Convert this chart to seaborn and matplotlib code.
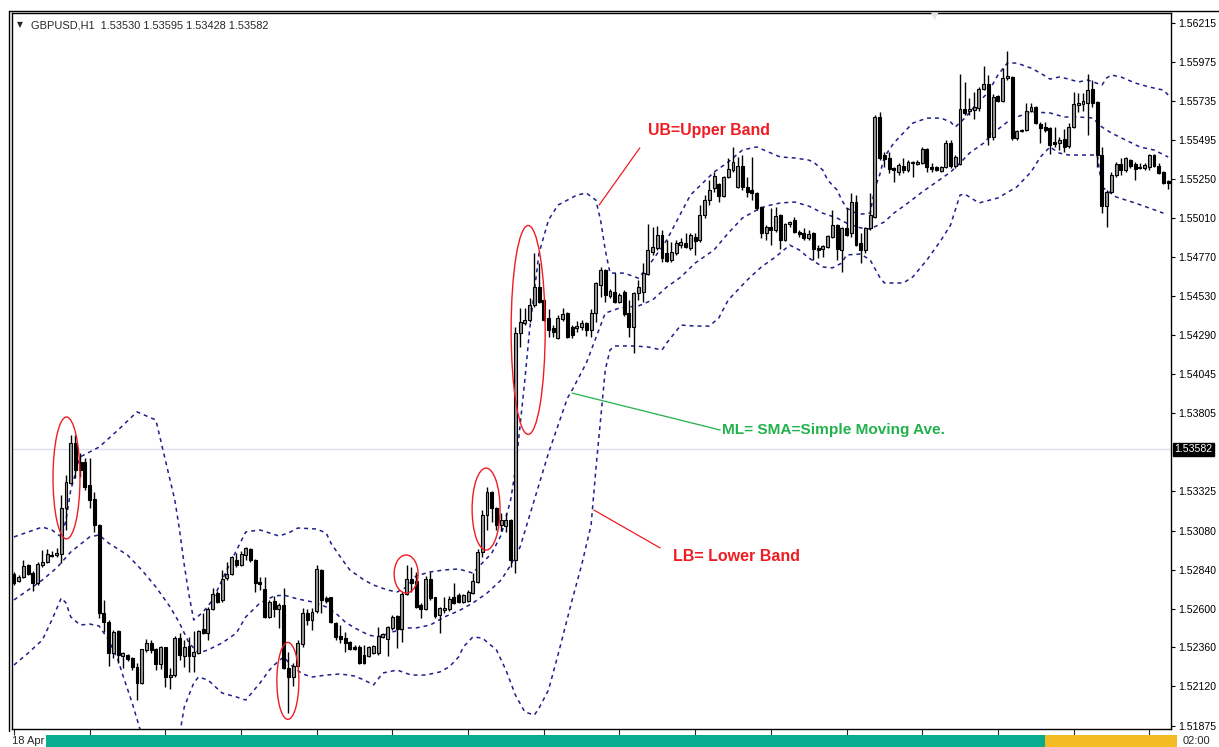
import numpy as np
import pandas as pd
import matplotlib
matplotlib.use("Agg")
import matplotlib.pyplot as plt
from matplotlib.patches import Ellipse, Rectangle
from matplotlib.lines import Line2D
import seaborn as sns

# ---------------- data (GBPUSD H1) ----------------
opens = [
    1.52813, 1.52770, 1.52795, 1.52868, 1.52819, 1.52757, 1.52868, 1.52887, 1.52930, 1.52930,
    1.52936, 1.53221, 1.53374, 1.53621, 1.53505, 1.53505, 1.53362, 1.53276, 1.53115, 1.52572,
    1.52517, 1.52325, 1.52461, 1.52307, 1.52313, 1.52295, 1.52239, 1.52140, 1.52344, 1.52387,
    1.52350, 1.52257, 1.52363, 1.52177, 1.52189, 1.52418, 1.52307, 1.52369, 1.52307, 1.52325,
    1.52473, 1.52448, 1.52597, 1.52695, 1.52653, 1.52789, 1.52813, 1.52899, 1.52868, 1.52930,
    1.52967, 1.52899, 1.52764, 1.52720, 1.52548, 1.52647, 1.52597, 1.52622, 1.52233, 1.52177,
    1.52245, 1.52381, 1.52572, 1.52529, 1.52585, 1.52838, 1.52665, 1.52671, 1.52510, 1.52430,
    1.52418, 1.52394, 1.52363, 1.52363, 1.52313, 1.52307, 1.52325, 1.52325, 1.52424, 1.52411,
    1.52480, 1.52554, 1.52473, 1.52689, 1.52782, 1.52770, 1.52622, 1.52597, 1.52782, 1.52671,
    1.52560, 1.52591, 1.52597, 1.52671, 1.52683, 1.52641, 1.52647, 1.52695, 1.52764, 1.52949,
    1.53177, 1.53320, 1.53221, 1.53115, 1.53109, 1.53146, 1.52899, 1.54301, 1.54362, 1.54381,
    1.54474, 1.54585, 1.54505, 1.54394, 1.54332, 1.54271, 1.54387, 1.54424, 1.54338, 1.54332,
    1.54338, 1.54362, 1.54320, 1.54424, 1.54597, 1.54690, 1.54530, 1.54555, 1.54493, 1.54555,
    1.54424, 1.54338, 1.54548, 1.54555, 1.54665, 1.54802, 1.54826, 1.54906, 1.54795, 1.54752,
    1.54795, 1.54844, 1.54856, 1.54826, 1.54894, 1.54875, 1.55029, 1.55122, 1.55197, 1.55221,
    1.55147, 1.55264, 1.55307, 1.55203, 1.55332, 1.55203, 1.55184, 1.55165, 1.55079, 1.54918,
    1.54956, 1.54937, 1.55029, 1.54875, 1.54974, 1.54999, 1.54925, 1.54918, 1.54888, 1.54918,
    1.54826, 1.54819, 1.54832, 1.54894, 1.54968, 1.54814, 1.54950, 1.54918, 1.55110, 1.54856,
    1.54814, 1.54950, 1.55017, 1.55635, 1.55400, 1.55382, 1.55320, 1.55295, 1.55332, 1.55307,
    1.55350, 1.55344, 1.55350, 1.55437, 1.55326, 1.55326, 1.55301, 1.55326, 1.55474, 1.55332,
    1.55344, 1.55684, 1.55672, 1.55678, 1.55691, 1.55807, 1.55838, 1.55511, 1.55764, 1.55734,
    1.55876, 1.55882, 1.55505, 1.55548, 1.55554, 1.55672, 1.55697, 1.55591, 1.55573, 1.55567,
    1.55481, 1.55474, 1.55498, 1.55456, 1.55573, 1.55709, 1.55715, 1.55721, 1.55807, 1.55728,
    1.55400, 1.55085, 1.55172, 1.55276, 1.55344, 1.55307, 1.55369, 1.55344, 1.55326, 1.55320,
    1.55326, 1.55400, 1.55332, 1.55295, 1.55240,
]
highs = [
    1.52826, 1.52807, 1.52899, 1.52874, 1.52832, 1.52887, 1.52961, 1.52967, 1.52955, 1.52974,
    1.53301, 1.53424, 1.53671, 1.53671, 1.53560, 1.53530, 1.53530, 1.53320, 1.53121, 1.52653,
    1.52529, 1.52467, 1.52467, 1.52332, 1.52319, 1.52301, 1.52263, 1.52350, 1.52411, 1.52406,
    1.52357, 1.52369, 1.52363, 1.52233, 1.52430, 1.52448, 1.52406, 1.52424, 1.52461, 1.52467,
    1.52572, 1.52610, 1.52727, 1.52708, 1.52838, 1.52887, 1.52924, 1.52942, 1.52955, 1.52980,
    1.52974, 1.52905, 1.52795, 1.52795, 1.52653, 1.52677, 1.52634, 1.52727, 1.52332, 1.52263,
    1.52406, 1.52604, 1.52597, 1.52604, 1.52868, 1.52843, 1.52677, 1.52671, 1.52517, 1.52498,
    1.52455, 1.52400, 1.52375, 1.52375, 1.52375, 1.52369, 1.52375, 1.52486, 1.52448, 1.52492,
    1.52560, 1.52560, 1.52702, 1.52868, 1.52856, 1.52826, 1.52634, 1.52801, 1.52826, 1.52671,
    1.52610, 1.52671, 1.52677, 1.52757, 1.52695, 1.52689, 1.52714, 1.52819, 1.52967, 1.53208,
    1.53350, 1.53326, 1.53227, 1.53189, 1.53189, 1.53152, 1.54338, 1.54456, 1.54456, 1.54518,
    1.54795, 1.54733, 1.54511, 1.54449, 1.54350, 1.54412, 1.54456, 1.54431, 1.54350, 1.54375,
    1.54381, 1.54369, 1.54449, 1.54616, 1.54709, 1.54696, 1.54573, 1.54671, 1.54548, 1.54567,
    1.54505, 1.54555, 1.54628, 1.54733, 1.54974, 1.54956, 1.54962, 1.54937, 1.54875, 1.54863,
    1.54875, 1.54888, 1.54918, 1.54918, 1.54918, 1.55091, 1.55153, 1.55246, 1.55295, 1.55227,
    1.55270, 1.55382, 1.55450, 1.55388, 1.55400, 1.55264, 1.55388, 1.55172, 1.55085, 1.54968,
    1.55073, 1.55079, 1.55035, 1.54980, 1.54993, 1.55017, 1.54937, 1.54950, 1.54937, 1.54925,
    1.54844, 1.54844, 1.54906, 1.55060, 1.54974, 1.54956, 1.55073, 1.55165, 1.55153, 1.54918,
    1.54956, 1.55165, 1.55647, 1.55666, 1.55419, 1.55419, 1.55326, 1.55350, 1.55382, 1.55369,
    1.55363, 1.55369, 1.55450, 1.55444, 1.55350, 1.55332, 1.55332, 1.55493, 1.55493, 1.55400,
    1.55900, 1.55851, 1.55752, 1.55789, 1.55820, 1.55950, 1.55894, 1.55776, 1.55770, 1.55938,
    1.56042, 1.55888, 1.55554, 1.55560, 1.55721, 1.55721, 1.55703, 1.55604, 1.55604, 1.55573,
    1.55573, 1.55511, 1.55560, 1.55597, 1.55789, 1.55782, 1.55782, 1.55900, 1.55863, 1.55734,
    1.55450, 1.55184, 1.55295, 1.55357, 1.55382, 1.55388, 1.55375, 1.55357, 1.55350, 1.55350,
    1.55406, 1.55406, 1.55350, 1.55301, 1.55246,
]
lows = [
    1.52745, 1.52764, 1.52789, 1.52807, 1.52708, 1.52745, 1.52856, 1.52880, 1.52918, 1.52918,
    1.52880, 1.53085, 1.53368, 1.53406, 1.53412, 1.53332, 1.53221, 1.53073, 1.52542, 1.52455,
    1.52245, 1.52295, 1.52263, 1.52233, 1.52276, 1.52220, 1.52035, 1.52134, 1.52332, 1.52325,
    1.52220, 1.52226, 1.52116, 1.52103, 1.52177, 1.52282, 1.52239, 1.52208, 1.52208, 1.52319,
    1.52442, 1.52406, 1.52591, 1.52634, 1.52641, 1.52776, 1.52807, 1.52856, 1.52862, 1.52899,
    1.52887, 1.52702, 1.52714, 1.52542, 1.52542, 1.52548, 1.52480, 1.52226, 1.51954, 1.52122,
    1.52239, 1.52363, 1.52498, 1.52467, 1.52572, 1.52572, 1.52634, 1.52510, 1.52406, 1.52387,
    1.52332, 1.52344, 1.52344, 1.52257, 1.52257, 1.52301, 1.52319, 1.52313, 1.52418, 1.52307,
    1.52467, 1.52357, 1.52394, 1.52683, 1.52702, 1.52604, 1.52542, 1.52591, 1.52653, 1.52542,
    1.52448, 1.52572, 1.52585, 1.52628, 1.52634, 1.52634, 1.52641, 1.52689, 1.52757, 1.52918,
    1.53085, 1.53134, 1.53085, 1.53079, 1.53073, 1.52856, 1.52819, 1.54215, 1.54350, 1.54369,
    1.54462, 1.54486, 1.54375, 1.54277, 1.54277, 1.54264, 1.54375, 1.54271, 1.54271, 1.54308,
    1.54320, 1.54283, 1.54277, 1.54369, 1.54524, 1.54493, 1.54518, 1.54486, 1.54486, 1.54406,
    1.54277, 1.54177, 1.54505, 1.54493, 1.54659, 1.54783, 1.54814, 1.54740, 1.54740, 1.54740,
    1.54783, 1.54826, 1.54826, 1.54814, 1.54783, 1.54863, 1.55011, 1.55091, 1.55172, 1.55110,
    1.55141, 1.55258, 1.55295, 1.55197, 1.55184, 1.55141, 1.55122, 1.55060, 1.54888, 1.54875,
    1.54844, 1.54925, 1.54819, 1.54869, 1.54956, 1.54918, 1.54894, 1.54875, 1.54875, 1.54752,
    1.54765, 1.54771, 1.54826, 1.54888, 1.54752, 1.54678, 1.54900, 1.54894, 1.54838, 1.54733,
    1.54795, 1.54937, 1.55011, 1.55369, 1.55326, 1.55288, 1.55234, 1.55276, 1.55288, 1.55295,
    1.55264, 1.55338, 1.55344, 1.55295, 1.55295, 1.55301, 1.55295, 1.55320, 1.55320, 1.55320,
    1.55338, 1.55647, 1.55647, 1.55622, 1.55672, 1.55801, 1.55462, 1.55493, 1.55728, 1.55728,
    1.55863, 1.55493, 1.55493, 1.55542, 1.55548, 1.55666, 1.55591, 1.55474, 1.55542, 1.55406,
    1.55450, 1.55431, 1.55419, 1.55444, 1.55567, 1.55666, 1.55672, 1.55523, 1.55697, 1.55326,
    1.55041, 1.54956, 1.55165, 1.55264, 1.55276, 1.55295, 1.55320, 1.55246, 1.55313, 1.55307,
    1.55307, 1.55326, 1.55282, 1.55221, 1.55190,
]
closes = [
    1.52757, 1.52795, 1.52862, 1.52813, 1.52757, 1.52874, 1.52887, 1.52936, 1.52927, 1.52942,
    1.53221, 1.53381, 1.53621, 1.53455, 1.53455, 1.53350, 1.53270, 1.53115, 1.52572, 1.52517,
    1.52325, 1.52455, 1.52313, 1.52325, 1.52288, 1.52239, 1.52140, 1.52350, 1.52387, 1.52344,
    1.52257, 1.52363, 1.52177, 1.52189, 1.52418, 1.52313, 1.52363, 1.52307, 1.52332, 1.52461,
    1.52448, 1.52597, 1.52689, 1.52641, 1.52782, 1.52813, 1.52918, 1.52868, 1.52936, 1.52974,
    1.52899, 1.52757, 1.52751, 1.52548, 1.52641, 1.52597, 1.52622, 1.52233, 1.52177, 1.52245,
    1.52387, 1.52572, 1.52529, 1.52579, 1.52843, 1.52653, 1.52647, 1.52517, 1.52424, 1.52411,
    1.52387, 1.52350, 1.52350, 1.52263, 1.52263, 1.52363, 1.52369, 1.52430, 1.52442, 1.52486,
    1.52548, 1.52473, 1.52689, 1.52782, 1.52757, 1.52610, 1.52597, 1.52782, 1.52665, 1.52554,
    1.52604, 1.52604, 1.52659, 1.52634, 1.52641, 1.52683, 1.52702, 1.52770, 1.52949, 1.53177,
    1.53320, 1.53221, 1.53115, 1.53146, 1.53146, 1.52899, 1.54301, 1.54369, 1.54381, 1.54474,
    1.54585, 1.54493, 1.54381, 1.54320, 1.54308, 1.54394, 1.54418, 1.54277, 1.54289, 1.54344,
    1.54362, 1.54320, 1.54424, 1.54609, 1.54690, 1.54536, 1.54561, 1.54493, 1.54536, 1.54418,
    1.54338, 1.54548, 1.54585, 1.54671, 1.54814, 1.54832, 1.54906, 1.54765, 1.54746, 1.54802,
    1.54856, 1.54863, 1.54832, 1.54906, 1.54869, 1.55029, 1.55122, 1.55184, 1.55270, 1.55147,
    1.55264, 1.55313, 1.55357, 1.55332, 1.55203, 1.55172, 1.55165, 1.55073, 1.54918, 1.54956,
    1.54937, 1.55023, 1.54875, 1.54974, 1.54987, 1.54925, 1.54912, 1.54888, 1.54912, 1.54819,
    1.54814, 1.54838, 1.54900, 1.54968, 1.54819, 1.54950, 1.54906, 1.55110, 1.54844, 1.54814,
    1.54950, 1.55029, 1.55635, 1.55382, 1.55375, 1.55313, 1.55307, 1.55338, 1.55307, 1.55357,
    1.55357, 1.55357, 1.55437, 1.55326, 1.55313, 1.55307, 1.55326, 1.55474, 1.55332, 1.55388,
    1.55684, 1.55659, 1.55684, 1.55697, 1.55807, 1.55838, 1.55511, 1.55758, 1.55734, 1.55876,
    1.55888, 1.55505, 1.55548, 1.55554, 1.55672, 1.55697, 1.55597, 1.55567, 1.55554, 1.55462,
    1.55468, 1.55493, 1.55450, 1.55573, 1.55715, 1.55721, 1.55734, 1.55801, 1.55721, 1.55400,
    1.55085, 1.55172, 1.55276, 1.55344, 1.55307, 1.55382, 1.55332, 1.55313, 1.55320, 1.55338,
    1.55400, 1.55332, 1.55288, 1.55227, 1.55227,
]

# Bollinger bands, sampled at bar positions
upper_idx = [0, 6, 8, 10, 11, 12, 14, 18, 22, 26, 30, 31, 33, 34, 35, 36, 37, 38, 40, 42,
             44, 46, 49, 52, 56, 58, 60, 64, 66, 67, 69, 71, 74, 76, 79, 81, 83, 85, 88, 91,
             94, 97, 98, 101, 103, 105, 106, 108, 109, 111, 113, 115, 119, 121, 123, 124, 125, 126, 129, 132,
             134, 138, 143, 148, 151, 154, 157, 159, 162, 165, 168, 169, 171, 172, 174, 175, 176, 178, 179, 181,
             182, 183, 184, 186, 188, 190, 193, 196, 198, 199, 201, 203, 206, 208, 210, 212, 215, 217, 219, 221,
             223, 225, 227, 230, 231, 232, 234, 237, 240, 243, 244]
upper_val = [1.53042, 1.53103, 1.53085, 1.53042, 1.53146, 1.53332, 1.53536, 1.53597, 1.53702, 1.53814,
             1.53764, 1.53640, 1.53393, 1.53270, 1.53085, 1.52868, 1.52683, 1.52529, 1.52579, 1.52653,
             1.52776, 1.52899, 1.53073, 1.53085, 1.53048, 1.53066, 1.53097, 1.53091, 1.53066, 1.53004,
             1.52918, 1.52838, 1.52776, 1.52745, 1.52714, 1.52702, 1.52733, 1.52801, 1.52826, 1.52838,
             1.52844, 1.52819, 1.52850, 1.52942, 1.53054, 1.53270, 1.53455, 1.54011, 1.54320, 1.54795,
             1.54999, 1.55091, 1.55153, 1.55165, 1.55122, 1.54999, 1.54814, 1.54671, 1.54671, 1.54640,
             1.54709, 1.54875, 1.55153, 1.55295, 1.55357, 1.55431, 1.55450, 1.55425, 1.55388, 1.55382,
             1.55369, 1.55357, 1.55307, 1.55246, 1.55184, 1.55122, 1.55073, 1.55041, 1.55035, 1.55041,
             1.55197, 1.55276, 1.55388, 1.55474, 1.55536, 1.55597, 1.55628, 1.55628, 1.55604, 1.55573,
             1.55628, 1.55697, 1.55789, 1.55894, 1.55968, 1.55968, 1.55937, 1.55906, 1.55869, 1.55882,
             1.55869, 1.55851, 1.55863, 1.55832, 1.55876, 1.55894, 1.55882, 1.55845, 1.55820, 1.55801,
             1.55771]

middle_idx = [0, 3, 6, 9, 12, 16, 18, 20, 24, 27, 30, 33, 35, 37, 39, 41, 44, 47, 49, 52,
              55, 57, 60, 63, 66, 68, 70, 72, 75, 77, 80, 83, 85, 88, 91, 94, 97, 100, 103, 105,
              107, 113, 117, 118, 121, 125, 128, 130, 132, 135, 138, 141, 144, 148, 151, 154, 157, 159, 162, 165,
              168, 171, 174, 176, 179, 181, 184, 186, 189, 192, 195, 198, 200, 202, 205, 207, 210, 212, 215, 219,
              222, 225, 228, 230, 232, 235, 238, 241, 244]
middle_val = [1.52653, 1.52714, 1.52776, 1.52850, 1.52949, 1.53042, 1.53054, 1.53004, 1.52930, 1.52838,
              1.52733, 1.52610, 1.52510, 1.52387, 1.52325, 1.52344, 1.52387, 1.52448, 1.52548, 1.52634,
              1.52677, 1.52683, 1.52659, 1.52641, 1.52610, 1.52572, 1.52517, 1.52480, 1.52436, 1.52424,
              1.52455, 1.52480, 1.52480, 1.52498, 1.52548, 1.52585, 1.52634, 1.52695, 1.52776, 1.52868,
              1.52980, 1.53560, 1.53899, 1.53949, 1.54116, 1.54424, 1.54455, 1.54462, 1.54468, 1.54505,
              1.54585, 1.54647, 1.54733, 1.54814, 1.54918, 1.55011, 1.55060, 1.55085, 1.55104, 1.55110,
              1.55085, 1.55041, 1.55011, 1.54980, 1.54950, 1.54943, 1.54987, 1.55041, 1.55104, 1.55172,
              1.55233, 1.55295, 1.55350, 1.55412, 1.55474, 1.55536, 1.55604, 1.55635, 1.55666, 1.55660,
              1.55635, 1.55635, 1.55629, 1.55573, 1.55536, 1.55493, 1.55450, 1.55431, 1.55388]

lower_idx = [0, 3, 6, 8, 10, 11, 12, 14, 16, 18, 20, 22, 23, 25, 27, 29, 32, 35, 36, 38,
             39, 41, 44, 47, 49, 52, 54, 55, 57, 59, 61, 63, 66, 69, 72, 74, 76, 78, 81, 84,
             87, 90, 92, 94, 95, 97, 99, 102, 104, 106, 108, 110, 111, 113, 115, 118, 120, 122, 123, 124,
             125, 126, 127, 131, 134, 137, 138, 141, 144, 147, 149, 151, 155, 158, 161, 164, 166, 168, 171, 173,
             175, 176, 179, 181, 183, 184, 188, 190, 193, 196, 198, 200, 201, 204, 208, 212, 215, 217, 219, 221,
             223, 229, 230, 233, 237, 240, 243]
lower_val = [1.52251, 1.52325, 1.52406, 1.52529, 1.52665, 1.52634, 1.52548, 1.52498, 1.52504, 1.52492,
             1.52406, 1.52282, 1.52189, 1.52016, 1.51819, 1.51603, 1.51603, 1.51819, 1.51992, 1.52140,
             1.52177, 1.52159, 1.52078, 1.52054, 1.52035, 1.52140, 1.52220, 1.52251, 1.52301, 1.52239,
             1.52196, 1.52177, 1.52189, 1.52196, 1.52183, 1.52159, 1.52128, 1.52202, 1.52220, 1.52189,
             1.52189, 1.52208, 1.52239, 1.52301, 1.52363, 1.52424, 1.52418, 1.52344, 1.52220, 1.52066,
             1.51961, 1.51942, 1.51985, 1.52097, 1.52313, 1.52653, 1.52868, 1.53115, 1.53455, 1.53764,
             1.54073, 1.54196, 1.54221, 1.54221, 1.54215, 1.54196, 1.54240, 1.54350, 1.54344, 1.54344,
             1.54394, 1.54505, 1.54628, 1.54709, 1.54771, 1.54844, 1.54814, 1.54765, 1.54709, 1.54703,
             1.54733, 1.54783, 1.54789, 1.54752, 1.54647, 1.54610, 1.54610, 1.54647, 1.54752, 1.54875,
             1.54968, 1.55153, 1.55159, 1.55104, 1.55135, 1.55203, 1.55295, 1.55388, 1.55450, 1.55412,
             1.55400, 1.55400, 1.55203, 1.55141, 1.55104, 1.55073, 1.55041]

price_ticks = [1.56215, 1.55975, 1.55735, 1.55495, 1.55250, 1.55010, 1.54770, 1.54530, 1.54290,
               1.54045, 1.53805, 1.53325, 1.53080, 1.52840, 1.52600, 1.52360, 1.52120, 1.51875]
last_price = 1.53582
header = "GBPUSD,H1  1.53530 1.53595 1.53428 1.53582"

# ---------------- figure ----------------
sns.set_theme(style="white")
plt.rcParams["font.family"] = ["Liberation Sans", "DejaVu Sans"]

W, H = 1219, 747
fig = plt.figure(figsize=(W / 100, H / 100), dpi=100)
fig.patch.set_facecolor("white")
ax = fig.add_axes([12 / W, (H - 729) / H, (1171 - 12) / W, (729 - 13) / H])
ax.set_facecolor("white")

df = pd.DataFrame({"open": opens, "high": highs, "low": lows, "close": closes})
df["bar"] = np.arange(len(df))
up = df["close"] >= df["open"]

band_col = "#1f1f8a"
# current price line
ax.axhline(last_price, color="#dcdcf2", lw=1, zorder=1)

for bx, bv in [(upper_idx, upper_val), (middle_idx, middle_val), (lower_idx, lower_val)]:
    sns.lineplot(x=bx, y=bv, ax=ax, color=band_col, lw=1.1,
                 linestyle=(0, (2.6, 2.6)), errorbar=None, zorder=2)

# candles
ax.vlines(df["bar"], df["low"], df["high"], color="black", lw=1, zorder=3)
body_bot = np.minimum(df["open"], df["close"])
body_h = (df["close"] - df["open"]).abs()
ax.bar(df["bar"], body_h, bottom=body_bot, width=0.62,
       color=np.where(up, "#979797", "black"), edgecolor="black", lw=0.8, zorder=4)

ax.set_xlim(-0.42, 244.6)
ax.set_ylim(1.51856, 1.56277)

# axes look (MT4 style)
ax.yaxis.tick_right()
ax.set_yticks(price_ticks)
ax.set_yticklabels([f"{t:.5f}" for t in price_ticks])
ax.tick_params(axis="y", direction="out", length=3, width=0.8, pad=2, labelsize=7.6,
               colors="black", right=True, left=False)
ax.set_xticks(list(range(0, 245, 16)))
ax.set_xticklabels([])
ax.tick_params(axis="x", direction="out", length=4, width=0.8, bottom=True)
for s in ax.spines.values():
    s.set_color("black")
    s.set_linewidth(1)
ax.set_xlabel("")
ax.set_ylabel("")

ax.text(1.003, last_price, f"{last_price:.5f}", transform=ax.get_yaxis_transform(),
        color="white", fontsize=7.6, va="center", ha="left", zorder=6,
        bbox=dict(facecolor="black", edgecolor="black", pad=1.3))

# header
fig.text(17 / W, 1 - 25 / H, "\u25bc", fontsize=5.5, va="center", family="DejaVu Sans")
fig.text(31 / W, 1 - 25 / H, header, fontsize=7.9, va="center")
# chart-shift marker at the top
fig.text(935 / W, 1 - 16 / H, "\u25bc", fontsize=7, va="center", ha="center",
         color="#e4e4ee", family="DejaVu Sans")

# annotations
red = "#ee1d24"
green = "#22b14c"
for cx, cy, w, h in [(11.1, 1.53406, 5.7, 0.00753), (57.9, 1.52153, 4.65, 0.00475),
                     (82.9, 1.52813, 5.07, 0.00235), (99.8, 1.53214, 5.9, 0.00506),
                     (108.7, 1.54320, 7.2, 0.01290)]:
    ax.add_patch(Ellipse((cx, cy), w, h, fill=False, edgecolor=red, lw=1, zorder=5))

ax.plot([123.7, 132.3], [1.55091, 1.55444], color=red, lw=0.9, zorder=5)
ax.text(134.0, 1.55554, "UB=Upper Band", color=red, fontsize=11.4, fontweight="bold",
        va="center", ha="left", zorder=6)
ax.plot([118.0, 149.3], [1.53930, 1.53702], color=green, lw=0.9, zorder=5)
ax.text(149.7, 1.53702, "ML= SMA=Simple Moving Ave.", color=green, fontsize=11.1,
        fontweight="bold", va="center", ha="left", zorder=6)
ax.plot([122.6, 136.6], [1.53208, 1.52974], color=red, lw=0.9, zorder=5)
ax.text(139.3, 1.52924, "LB= Lower Band", color=red, fontsize=11.5, fontweight="bold",
        va="center", ha="left", zorder=6)

# window frame lines
fig.add_artist(Line2D([8.5 / W, 8.5 / W], [1 - 11 / H, 1 - 731 / H], color="black", lw=1))
fig.add_artist(Line2D([8.5 / W, 1.0], [1 - 11 / H, 1 - 11 / H], color="black", lw=1))

# bottom status strip
fig.add_artist(Rectangle((46 / W, 0), (1045 - 46) / W, 12 / H, transform=fig.transFigure,
                         facecolor="#07ad8e", edgecolor="none"))
fig.add_artist(Rectangle((1045 / W, 0), (1177 - 1045) / W, 12 / H, transform=fig.transFigure,
                         facecolor="#f3bc22", edgecolor="none"))
fig.text(12 / W, 1 - 741 / H, "18 Apr", fontsize=8, va="center")
fig.text(1183 / W, 1 - 741 / H, "02:00", fontsize=8, va="center")

fig.savefig("out.png", dpi=100)
